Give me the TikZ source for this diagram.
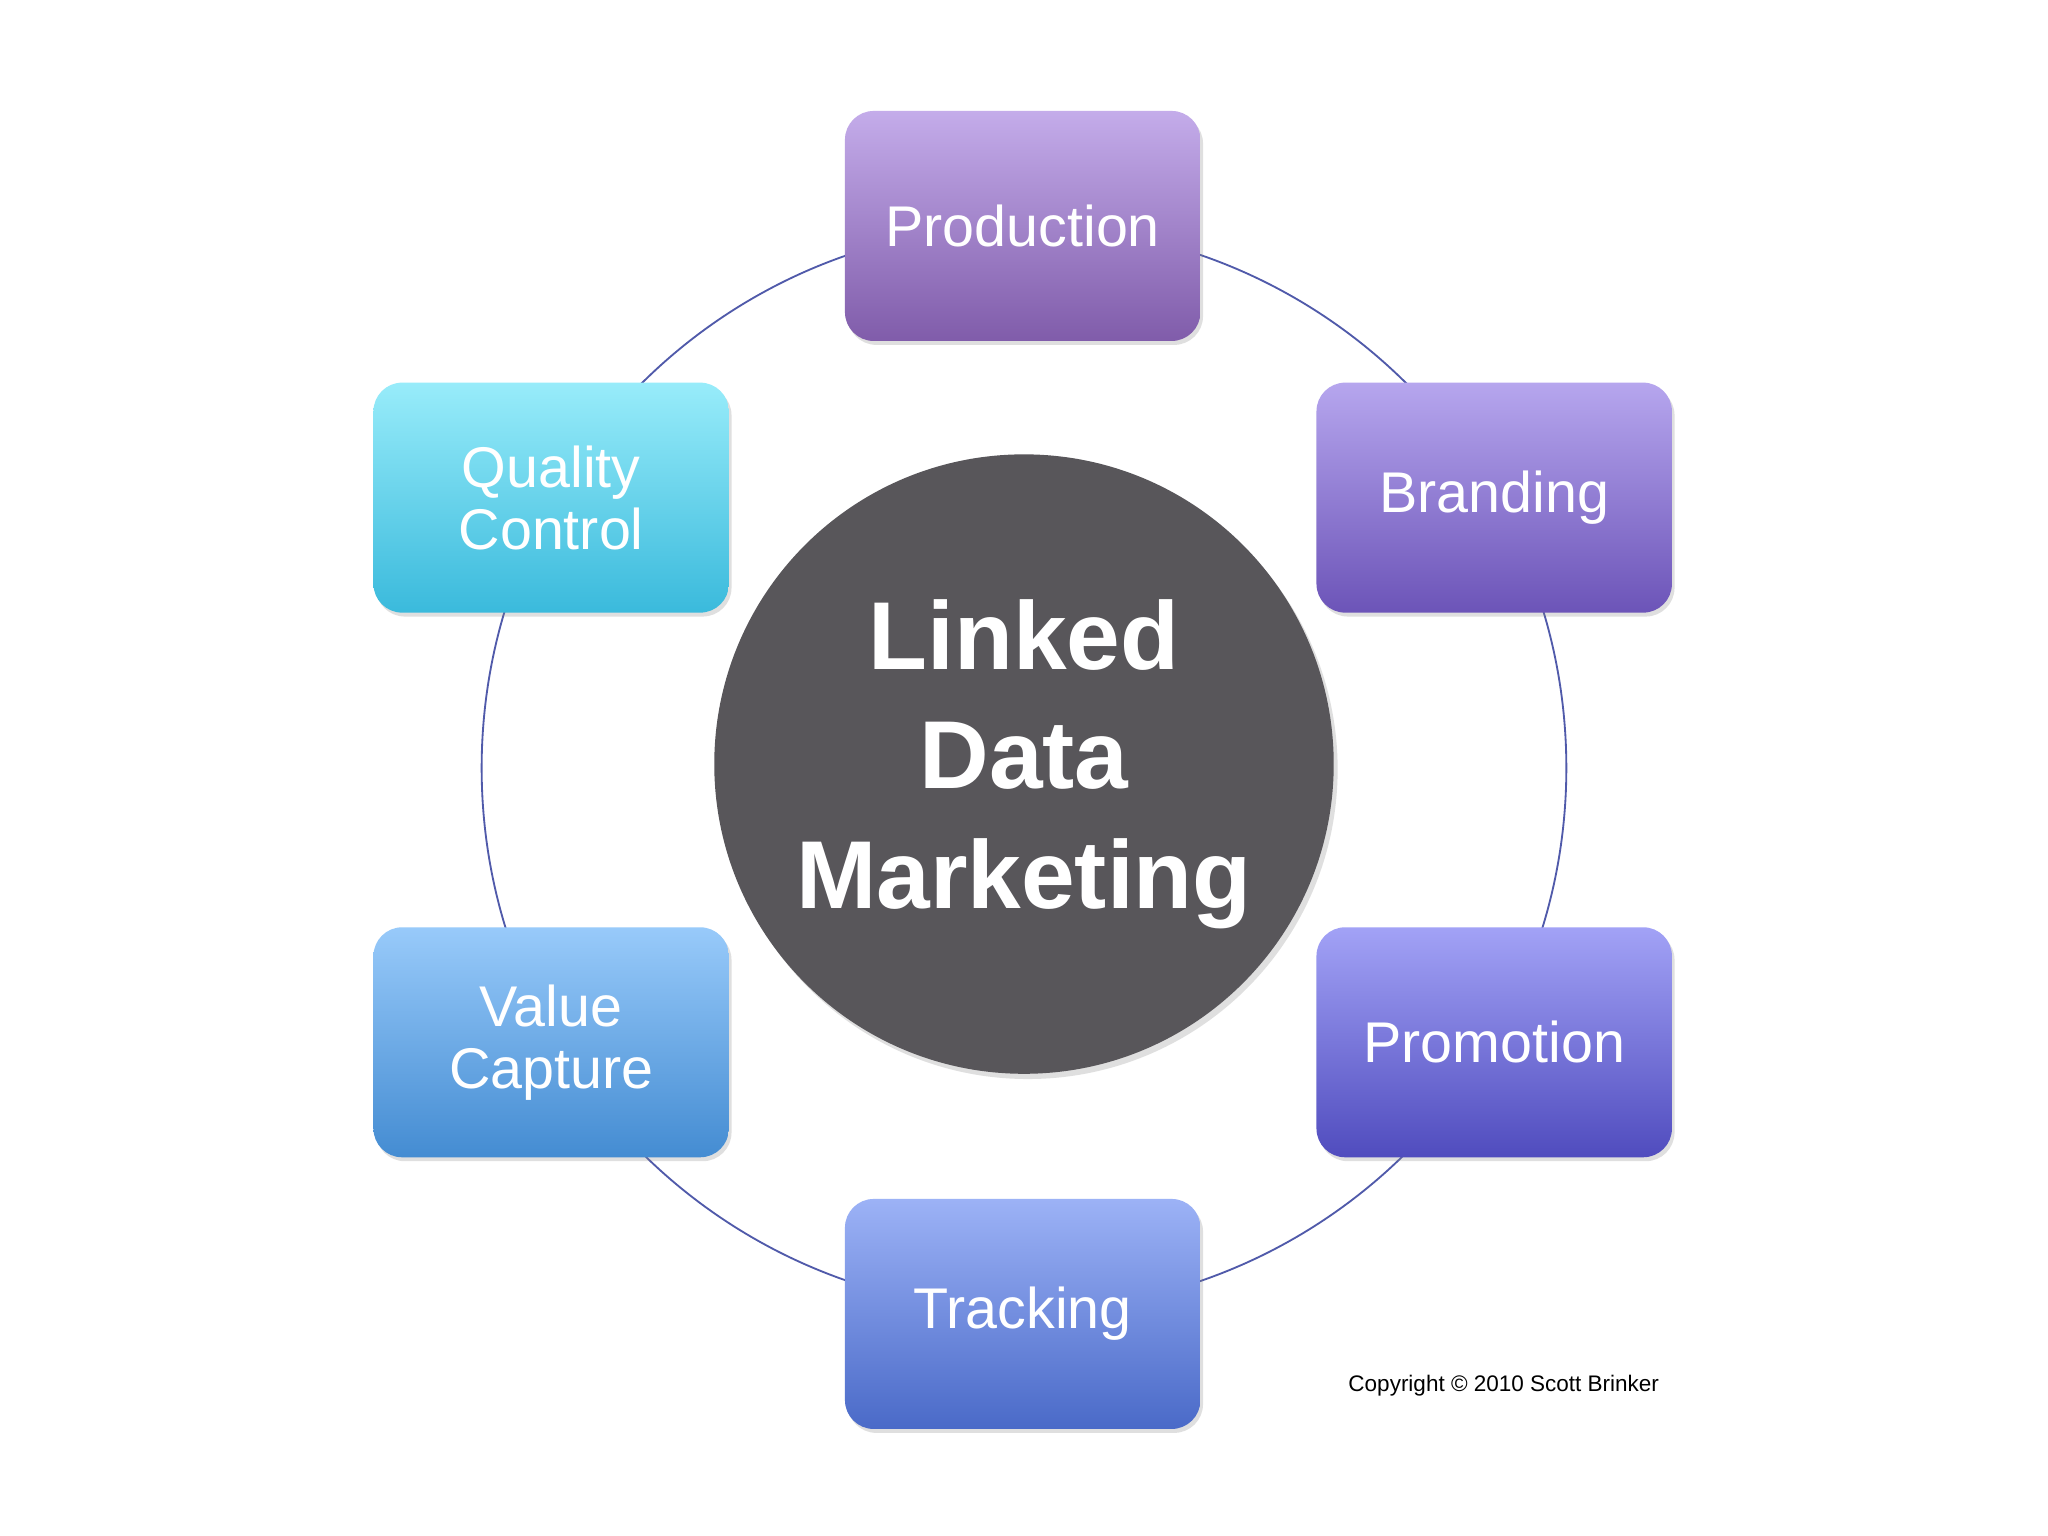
\documentclass[tikz,border=0pt]{standalone}
\usepackage{fontspec}
\setmainfont{Liberation Sans}
\usetikzlibrary{shadows}
\definecolor{ringc}{RGB}{80,90,170}
\definecolor{hub}{RGB}{88,86,90}
\tikzset{
  box/.style={rounded corners=0.22cm, minimum width=2.72cm, minimum height=1.76cm,
    text=white, align=center, font=\fontsize{12.5}{13.5}\selectfont,
    drop shadow={shadow xshift=0.02cm, shadow yshift=-0.03cm, opacity=0.25}},
}
\begin{document}
\begin{tikzpicture}[x=0.01cm,y=-0.01cm]
\useasboundingbox (0,0) rectangle (1568,1176);
\fill[white] (0,0) rectangle (1568,1176);
\draw[ringc, line width=0.4pt] (784,588) circle (4.15cm);
\node[circle, fill=hub, minimum size=4.74cm, text=white, align=center,
  font=\bfseries\fontsize{21}{26}\selectfont,
  drop shadow={shadow xshift=0.03cm, shadow yshift=-0.04cm, opacity=0.25}] (hub) at (784,585)
  {Linked\\Data\\Marketing};
\node[box, top color={rgb,255:red,196;green,172;blue,234}, bottom color={rgb,255:red,128;green,92;blue,170}] (prod) at (783,173) {Production};
\node[box, top color={rgb,255:red,182;green,166;blue,238}, bottom color={rgb,255:red,108;green,84;blue,184}] (brand) at (1144,381) {Branding};
\node[box, top color={rgb,255:red,162;green,162;blue,246}, bottom color={rgb,255:red,80;green,76;blue,190}] (promo) at (1144,798) {Promotion};
\node[box, top color={rgb,255:red,156;green,178;blue,246}, bottom color={rgb,255:red,74;green,106;blue,200}] (track) at (783,1006) {Tracking};
\node[box, top color={rgb,255:red,152;green,202;blue,250}, bottom color={rgb,255:red,68;green,140;blue,210}] (value) at (422,798) {Value\\Capture};
\node[box, top color={rgb,255:red,152;green,236;blue,250}, bottom color={rgb,255:red,58;green,186;blue,220}] (qual) at (422,381) {Quality\\Control};
\node[font=\fontsize{4.9}{6}\selectfont, anchor=west] (copy) at (1020,1061) {Copyright © 2010 Scott Brinker};
\end{tikzpicture}
\end{document}
